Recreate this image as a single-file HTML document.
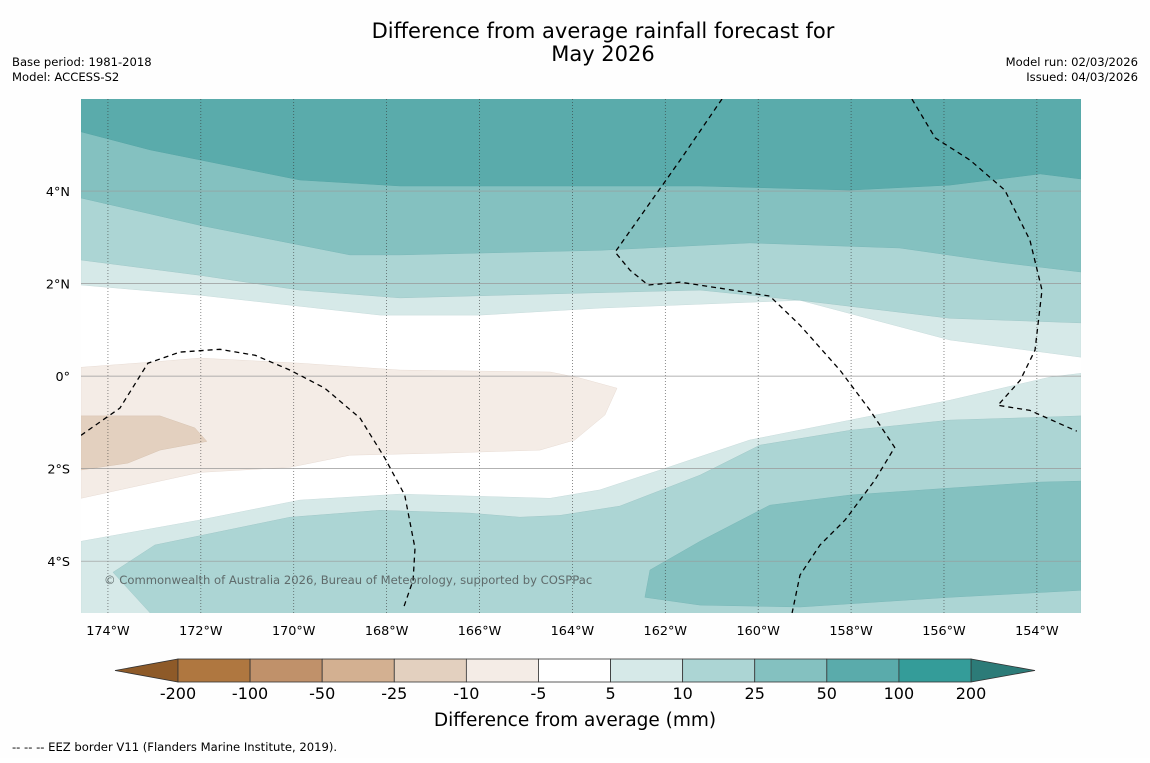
<!DOCTYPE html>
<html><head><meta charset="utf-8"><style>
body{margin:0;background:#fff;font-family:"Liberation Sans","DejaVu Sans",sans-serif;}
svg text{font-family:"DejaVu Sans","Liberation Sans",sans-serif;}
</style></head><body>
<svg id="s" width="1150" height="758" viewBox="0 0 1150 758" xmlns="http://www.w3.org/2000/svg">
<rect width="1150" height="758" fill="#fefefe"/>
<text x="603" y="38" font-size="21" text-anchor="middle">Difference from average rainfall forecast for</text>
<text x="603" y="61" font-size="21" text-anchor="middle">May 2026</text>
<text x="12" y="66" font-size="11.6">Base period: 1981-2018</text>
<text x="12" y="81" font-size="11.6">Model: ACCESS-S2</text>
<text x="1138" y="66" font-size="11.6" text-anchor="end">Model run: 02/03/2026</text>
<text x="1138" y="81" font-size="11.6" text-anchor="end">Issued: 04/03/2026</text>
<defs><clipPath id="clip"><rect x="81" y="99" width="1000" height="514"/></clipPath></defs>
<rect x="81" y="99" width="1000" height="514" fill="#ffffff"/>
<g id="fills" clip-path="url(#clip)"></g>
<g id="grid" clip-path="url(#clip)"></g>
<g id="eez" clip-path="url(#clip)"></g>
<g id="axes"></g>
<text x="104" y="584" font-size="11.6" fill="#5f6b6b">© Commonwealth of Australia 2026, Bureau of Meteorology, supported by COSPPac</text>
<g id="cbar"></g>
<text x="575" y="726" font-size="18.5" text-anchor="middle">Difference from average (mm)</text>
<text x="12" y="751" font-size="11.6">--  --  -- EEZ border V11 (Flanders Marine Institute, 2019).</text>
</svg>
<script>
const lonMin=-174.58, lonMax=-153.05, latMin=-5.12, latMax=5.99;
const lonTicks=[-174,-172,-170,-168,-166,-164,-162,-160,-158,-156,-154];
const lonLabels=["174°W","172°W","170°W","168°W","166°W","164°W","162°W","160°W","158°W","156°W","154°W"];
const latTicks=[4,2,0,-2,-4];
const latLabels=["4°N","2°N","0°","2°S","4°S"];
const cbarLevels=["-200","-100","-50","-25","-10","-5","5","10","25","50","100","200"];
const cbarColors=["#af7740","#c0916a","#d3b091","#e3d0bf","#f4ece6","#ffffff","#d6e9e8","#acd5d4","#84c1c0","#5aabab","#349c99"];
const northD=[[-174.58,1.97],[-172.02,1.75],[-168.14,1.32],[-165.99,1.32],[-163.41,1.47],[-159.10,1.64],[-155.87,0.78],[-153.05,0.41]];
const northC=[[-174.58,2.51],[-172.02,2.18],[-169.87,1.86],[-167.71,1.69],[-165.56,1.75],[-161.25,1.86],[-159.10,1.64],[-155.87,1.25],[-153.05,1.15]];
const northB=[[-174.58,3.85],[-172.02,3.26],[-168.79,2.62],[-167.71,2.62],[-163.41,2.72],[-160.18,2.88],[-156.95,2.77],[-154.80,2.46],[-153.05,2.25]];
const northA=[[-174.58,5.28],[-173.09,4.89],[-169.87,4.24],[-167.71,4.11],[-161.25,4.11],[-158.02,4.02],[-155.87,4.13],[-153.93,4.37],[-153.05,4.26]];
const southE=[[-174.58,-3.57],[-172.02,-3.11],[-169.87,-2.68],[-167.71,-2.55],[-164.48,-2.64],[-163.41,-2.46],[-162.11,-2.03],[-160.18,-1.38],[-158.02,-0.95],[-155.87,-0.52],[-153.72,-0.02],[-153.05,0.06]];
const southF=[[-173.09,-5.12],[-173.89,-4.24],[-172.99,-3.65],[-170.08,-3.05],[-168.14,-2.90],[-166.21,-2.96],[-165.13,-3.05],[-164.27,-3.01],[-162.98,-2.81],[-161.25,-2.14],[-159.96,-1.49],[-158.02,-1.17],[-155.87,-0.95],[-153.93,-0.89],[-153.05,-0.86]];
const south50=[[-162.44,-4.78],[-162.33,-4.19],[-161.25,-3.57],[-159.75,-2.79],[-158.02,-2.57],[-155.87,-2.42],[-153.93,-2.29],[-153.05,-2.27],[-153.05,-4.63],[-155.87,-4.78],[-159.10,-4.99],[-161.25,-4.95]];
const dry5=[[-174.58,0.19],[-173.09,0.30],[-172.02,0.39],[-169.87,0.28],[-167.71,0.13],[-164.48,0.09],[-163.84,-0.04],[-163.04,-0.26],[-163.30,-0.84],[-163.95,-1.38],[-164.70,-1.60],[-166.64,-1.66],[-168.79,-1.71],[-170.08,-1.97],[-172.02,-2.08],[-174.58,-2.64]];
const dry10=[[-174.58,-0.86],[-172.88,-0.86],[-172.13,-1.12],[-171.87,-1.41],[-172.88,-1.60],[-173.57,-1.88],[-174.58,-2.03]];
const eez1=[[-160.78,5.99],[-161.68,4.67],[-163.08,2.68],[-162.76,2.29],[-162.37,1.97],[-161.68,2.03],[-160.82,1.90],[-159.75,1.73],[-159.10,1.10],[-158.24,0.13],[-157.59,-0.74],[-157.06,-1.54],[-157.49,-2.25],[-158.13,-3.11],[-158.67,-3.65],[-159.10,-4.30],[-159.27,-5.12]];
const eez2=[[-156.69,5.99],[-156.19,5.15],[-155.44,4.67],[-154.69,4.02],[-154.15,2.94],[-153.89,1.86],[-154.04,0.56],[-154.36,-0.09],[-154.84,-0.63],[-154.15,-0.74],[-153.14,-1.19]];
const eez3=[[-174.58,-1.28],[-173.74,-0.69],[-173.14,0.28],[-172.45,0.52],[-171.59,0.58],[-170.83,0.45],[-170.08,0.13],[-169.33,-0.26],[-168.57,-0.91],[-168.04,-1.77],[-167.61,-2.57],[-167.39,-3.72],[-167.43,-4.41],[-167.63,-4.99]];

const X=lon=>81+(lon-lonMin)*1000/(lonMax-lonMin);
const Y=lat=>99+(latMax-lat)*514/(latMax-latMin);
const NS="http://www.w3.org/2000/svg";
function mk(tag,attrs,parent){const e=document.createElementNS(NS,tag);for(const k in attrs)e.setAttribute(k,attrs[k]);parent.appendChild(e);return e;}
const pts=a=>a.map(p=>X(p[0]).toFixed(1)+","+Y(p[1]).toFixed(1)).join(" ");
const fills=document.getElementById('fills');
function topPoly(curve){return [[curve[0][0],latMax+1],...curve,[curve[curve.length-1][0],latMax+1]];}
function botPoly(curve){return [[curve[0][0],latMin-1],...curve,[curve[curve.length-1][0],latMin-1]];}
let el;
el=mk('polygon',{points:pts(topPoly(northD)),fill:cbarColors[6],stroke:"#c8dcdc","stroke-width":0.5},fills);


el=mk('polygon',{points:pts(topPoly(northC)),fill:cbarColors[7],stroke:"#a0c8c8","stroke-width":0.5},fills);


el=mk('polygon',{points:pts(topPoly(northB)),fill:cbarColors[8],stroke:"#7ab8b8","stroke-width":0.5},fills);


el=mk('polygon',{points:pts(topPoly(northA)),fill:cbarColors[9],stroke:"#55a5a5","stroke-width":0.5},fills);


el=mk('polygon',{points:pts([[-174.58,latMin-1],...southE,[-153.05,latMin-1]]),fill:cbarColors[6],stroke:"#c8dcdc","stroke-width":0.5},fills);


el=mk('polygon',{points:pts(botPoly(southF)),fill:cbarColors[7],stroke:"#a0c8c8","stroke-width":0.5},fills);


el=mk('polygon',{points:pts(south50),fill:cbarColors[8],stroke:"#7ab8b8","stroke-width":0.5},fills);


el=mk('polygon',{points:pts(dry5),fill:cbarColors[4],stroke:"#e8dcd4","stroke-width":0.5},fills);


el=mk('polygon',{points:pts(dry10),fill:cbarColors[3],stroke:"#d8c4b2","stroke-width":0.5},fills);



const grid=document.getElementById('grid'), axes=document.getElementById('axes');
lonTicks.forEach((lon,i)=>{
  const l=mk('line',{x1:X(lon),x2:X(lon),y1:99,y2:613,stroke:"#333","stroke-width":0.7,"stroke-dasharray":"1,2",opacity:0.8},grid);
  
  
  const t=mk('text',{x:X(lon),y:635,"font-size":12.8,"text-anchor":"middle"},axes);t.textContent=lonLabels[i];
  
  
});
latTicks.forEach((lat,i)=>{
  const l=mk('line',{x1:81,x2:1081,y1:Y(lat),y2:Y(lat),stroke:"#999","stroke-width":0.7},grid);
  
  
  const t=mk('text',{x:70,y:Y(lat)+5,"font-size":12.8,"text-anchor":"end"},axes);t.textContent=latLabels[i];
  
  
});
const eez=document.getElementById('eez');
[eez1,eez2,eez3].forEach(a=>{
  const p=mk('polyline',{points:pts(a),fill:"none",stroke:"#000","stroke-width":1.3,"stroke-dasharray":"5,4"},eez);
  
  
});
const cb=document.getElementById('cbar');
const cx0=178,cx1=971,cy=659,ch=23,sw=(cx1-cx0)/cbarColors.length;
el=mk('polygon',{points:`${cx0},${cy} ${cx0},${cy+ch} 115,${cy+ch/2}`,fill:"#8e5a28",stroke:"#333","stroke-width":0.8},cb);


el=mk('polygon',{points:`${cx1},${cy} ${cx1},${cy+ch} 1035,${cy+ch/2}`,fill:"#2c7b78",stroke:"#333","stroke-width":0.8},cb);


cbarColors.forEach((c,i)=>{
  const r=mk('rect',{x:cx0+i*sw,y:cy,width:sw,height:ch,fill:c,stroke:"#333","stroke-width":0.8},cb);
  
  
});
cbarLevels.forEach((lv,i)=>{
  const t=mk('text',{x:cx0+i*sw,y:699,"font-size":16,"text-anchor":"middle"},cb);t.textContent=lv;
  
  
});
</script>
</body></html>
